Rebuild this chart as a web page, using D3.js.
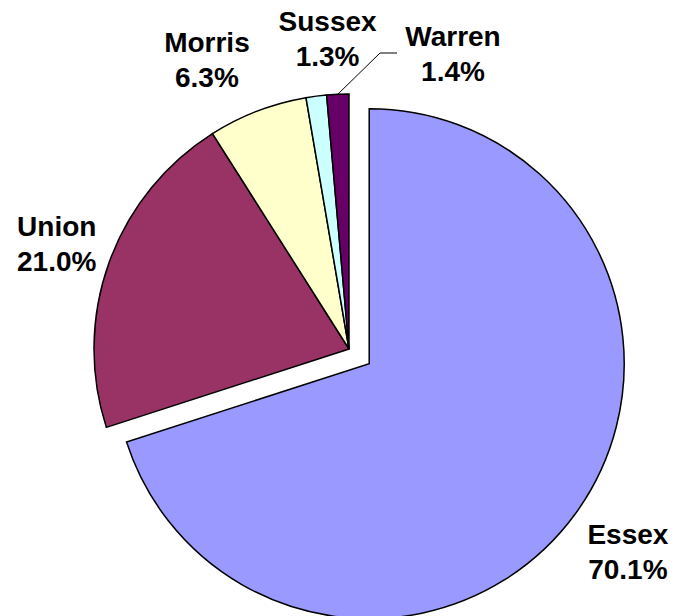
<!DOCTYPE html>
<html>
<head>
<meta charset="utf-8">
<script src="https://cdn.jsdelivr.net/npm/d3@7"></script>
<style>
  body { margin: 0; background: #fff; }
  text { font-family: "Liberation Sans", Arial, sans-serif; font-weight: bold; font-size: 28px; fill: #000; }
</style>
</head>
<body>
<script>
// county shares, clockwise from 12 o'clock
var counties = ["Essex", "Union", "Morris", "Sussex", "Warren"];
var shares = [70.1, 21.0, 6.3, 1.3, 1.4];
var colors = ["#9999ff", "#993366", "#ffffcc", "#ccffff", "#660066"];

var width = 677, height = 616;
var cx = 349, cy = 349, radius = 255;
var explode = 25;       // Essex is pulled out
var labelR = 315;
var lineGap = 35;

var slices = counties.map(function(c, i) {
  return { name: c, value: shares[i], color: colors[i] };
});

var pie = d3.pie().sort(null).value(function(d) { return d.value; });
var arc = d3.arc().innerRadius(0).outerRadius(radius);
var arcs = pie(slices);

var svg = d3.select("body").append("svg")
  .attr("width", width)
  .attr("height", height);

var g = svg.append("g").attr("transform", "translate(" + cx + "," + cy + ")");

function polar(r, a) {
  return [r * Math.sin(a), -r * Math.cos(a)];
}
function mid(d) { return (d.startAngle + d.endAngle) / 2; }
function shift(d) { return d.index === 0 ? polar(explode, mid(d)) : [0, 0]; }

g.selectAll("path")
  .data(arcs)
  .enter().append("path")
  .attr("d", arc)
  .attr("transform", function(d) { var s = shift(d); return "translate(" + s[0] + "," + s[1] + ")"; })
  .style("fill", function(d) { return d.data.color; })
  .style("stroke", "#000")
  .style("stroke-width", 1.5)
  .style("stroke-linejoin", "miter");

// small nudges to where the labels sit in the original
var nudge = { Essex: [4, 2], Union: [4, 2], Morris: [-29, 5], Sussex: [19, 2] };

var labels = arcs.map(function(d) {
  var s = shift(d), p;
  if (d.data.name === "Warren") {
    // Warren gets a leader line
    var a = polar(radius, mid(d));
    var elbow = [380 - cx, 53 - cy], end = [397 - cx, 53 - cy];
    g.append("polyline")
      .attr("points", [a, elbow, end].map(function(q) { return q.join(","); }).join(" "))
      .style("fill", "none")
      .style("stroke", "#000")
      .style("stroke-width", 1);
    p = [453 - cx, 53.5 - cy];
  } else {
    p = polar(labelR, mid(d));
    var n = nudge[d.data.name];
    p = [p[0] + s[0] + n[0], p[1] + s[1] + n[1]];
  }
  return { d: d, x: p[0], y: p[1] };
});

var lab = g.selectAll("g.label")
  .data(labels)
  .enter().append("g")
  .attr("class", "label")
  .attr("transform", function(l) { return "translate(" + l.x + "," + l.y + ")"; });

lab.append("text")
  .attr("text-anchor", "middle")
  .attr("y", -7.5)
  .text(function(l) { return l.d.data.name; });

lab.append("text")
  .attr("text-anchor", "middle")
  .attr("y", -7.5 + lineGap)
  .text(function(l) { return d3.format(".1f")(l.d.data.value) + "%"; });
</script>
</body>
</html>
